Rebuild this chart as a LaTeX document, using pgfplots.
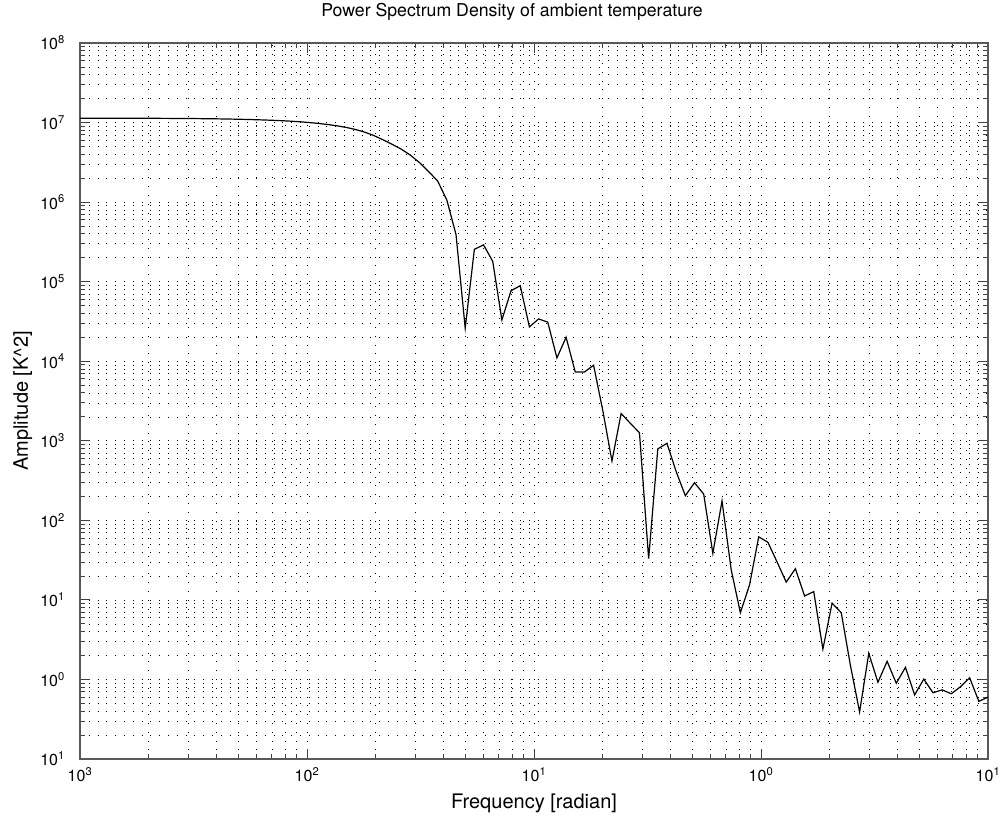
\documentclass[border=0pt]{standalone}
\usepackage{fontspec}
\setmainfont{TeX Gyre Heros}
\usepackage{pgfplots}
\pgfplotsset{compat=1.18}

\begin{document}
\begin{tikzpicture}[font=\fontsize{16}{19}\selectfont]
\path[use as bounding box] (-80pt,-62pt) rectangle (925pt,759pt);
\begin{axis}[
    at={(0pt,0pt)}, anchor=south west,
    scale only axis, width=908pt, height=716pt,
    xmode=log, ymode=log,
    xmin=1e-3, xmax=10, ymin=1e-1, ymax=1e8,
    xtick={1e-3,1e-2,1e-1,1,10},
    xticklabels={10\textsuperscript{3},10\textsuperscript{2},10\textsuperscript{1},10\textsuperscript{0},10\textsuperscript{1}},
    ytick={1e-1,1,10,1e2,1e3,1e4,1e5,1e6,1e7,1e8},
    yticklabels={10\textsuperscript{1},10\textsuperscript{0},10\textsuperscript{1},10\textsuperscript{2},10\textsuperscript{3},10\textsuperscript{4},10\textsuperscript{5},10\textsuperscript{6},10\textsuperscript{7},10\textsuperscript{8}},
    minor xtick={2e-3,3e-3,4e-3,5e-3,6e-3,7e-3,8e-3,9e-3,
                 2e-2,3e-2,4e-2,5e-2,6e-2,7e-2,8e-2,9e-2,
                 2e-1,3e-1,4e-1,5e-1,6e-1,7e-1,8e-1,9e-1,
                 2,3,4,5,6,7,8,9},
    minor ytick={2e-1,3e-1,4e-1,5e-1,6e-1,7e-1,8e-1,9e-1,
                 2,3,4,5,6,7,8,9,
                 20,30,40,50,60,70,80,90,
                 2e2,3e2,4e2,5e2,6e2,7e2,8e2,9e2,
                 2e3,3e3,4e3,5e3,6e3,7e3,8e3,9e3,
                 2e4,3e4,4e4,5e4,6e4,7e4,8e4,9e4,
                 2e5,3e5,4e5,5e5,6e5,7e5,8e5,9e5,
                 2e6,3e6,4e6,5e6,6e6,7e6,8e6,9e6,
                 2e7,3e7,4e7,5e7,6e7,7e7,8e7,9e7},
    grid=both,
    major grid style={black, line width=0.6pt, dash pattern=on 0.8pt off 8pt},
    minor grid style={black, line width=0.6pt, dash pattern=on 0.8pt off 8pt},
    tick align=inside,
    major tick length=10pt, minor tick length=5pt,
    tick style={black!75, line width=0.8pt},
    axis line style={black!65, line width=1.2pt},
    xticklabel style={anchor=north, inner sep=0pt, yshift=-8pt},
    yticklabel style={anchor=east, inner sep=0pt, xshift=-15pt},
    title={Power Spectrum Density of ambient temperature},
    title style={at={(axis description cs:0.5,1)}, anchor=base, inner sep=0pt, xshift=-22pt, yshift=20pt, font=\fontsize{17.7}{20}\selectfont},
    xlabel={Frequency [radian]},
    xlabel style={at={(axis description cs:0.5,0)}, anchor=base, inner sep=0pt, yshift=-50pt, font=\fontsize{20}{23}\selectfont},
    ylabel={Amplitude [K\textasciicircum 2]},
    ylabel style={at={(axis description cs:0,0.5)}, anchor=base, inner sep=0pt, yshift=52pt, font=\fontsize{20}{23}\selectfont},
]
\addplot[black, line width=1.2pt] coordinates {
 (1.0000e-3,1.135e7) (1.0975e-3,1.135e7) (1.2045e-3,1.134e7) (1.3219e-3,1.134e7)
 (1.4508e-3,1.133e7) (1.5923e-3,1.133e7) (1.7475e-3,1.132e7) (1.9179e-3,1.131e7)
 (2.1049e-3,1.130e7) (2.3101e-3,1.129e7) (2.5354e-3,1.127e7) (2.7826e-3,1.125e7)
 (3.0539e-3,1.123e7) (3.3516e-3,1.120e7) (3.6784e-3,1.117e7) (4.0370e-3,1.113e7)
 (4.4306e-3,1.108e7) (4.8626e-3,1.102e7) (5.3367e-3,1.095e7) (5.8570e-3,1.087e7)
 (6.4281e-3,1.078e7) (7.0548e-3,1.067e7) (7.7426e-3,1.055e7) (8.4975e-3,1.040e7)
 (9.3260e-3,1.022e7) (1.0235e-2,1.000e7) (1.1233e-2,9.75e6) (1.2328e-2,9.45e6)
 (1.3530e-2,9.10e6) (1.4849e-2,8.70e6) (1.6297e-2,8.20e6) (1.7886e-2,7.60e6)
 (1.9630e-2,6.90e6) (2.1544e-2,6.10e6) (2.3645e-2,5.35e6) (2.5950e-2,4.65e6)
 (2.8480e-2,3.91e6) (3.1257e-2,3.15e6) (3.4305e-2,2.43e6) (3.7649e-2,1.84e6)
 (4.1320e-2,1.06e6) (4.5349e-2,3.9e5) (4.9770e-2,2.6e4) (5.4623e-2,2.55e5)
 (5.9948e-2,2.9e5) (6.5793e-2,1.8e5) (7.2208e-2,3.3e4) (7.9248e-2,7.7e4)
 (8.6975e-2,8.9e4) (9.5455e-2,2.7e4) (1.0476e-1,3.4e4) (1.1498e-1,3.1e4)
 (1.2619e-1,1.1e4) (1.3849e-1,2.0e4) (1.5199e-1,7.3e3) (1.6681e-1,7.3e3)
 (1.8307e-1,8.9e3) (2.0092e-1,2.4e3) (2.2051e-1,557) (2.4201e-1,2.2e3)
 (2.6561e-1,1.66e3) (2.9151e-1,1.26e3) (3.1993e-1,33) (3.5112e-1,790)
 (3.8535e-1,930) (4.2292e-1,410) (4.6416e-1,204) (5.0941e-1,297)
 (5.5908e-1,214) (6.1359e-1,38.5) (6.7342e-1,175) (7.3907e-1,24)
 (8.1113e-1,6.9) (8.9022e-1,15.4) (9.7701e-1,62) (1.0723,53)
 (1.1768,30) (1.2915,16.7) (1.4175,24.7) (1.5557,11.2)
 (1.7074,12.7) (1.8738,2.4) (2.0565,9.1) (2.2570,6.9)
 (2.4771,1.5) (2.7186,0.39) (2.9836,2.13) (3.2745,0.92)
 (3.5938,1.69) (3.9442,0.895) (4.3288,1.42) (4.7508,0.64)
 (5.2140,1.01) (5.7224,0.68) (6.2803,0.74) (6.8926,0.66)
 (7.5646,0.81) (8.3022,1.05) (9.1116,0.53) (10.000,0.60)
};
\end{axis}
\end{tikzpicture}
\end{document}
